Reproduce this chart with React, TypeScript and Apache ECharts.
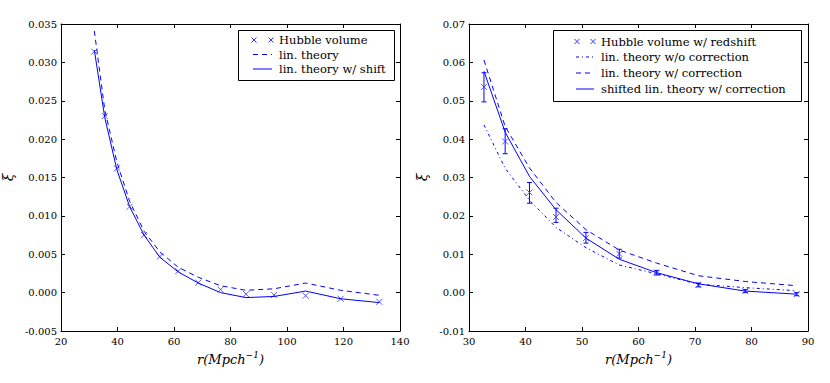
import React, { useEffect, useRef } from "react";
import * as echarts from "echarts";

// ---------- data ----------
const LEFT_R = [31.8, 35.5, 39.8, 44.3, 49.4, 55.0, 61.5, 68.6, 76.5, 85.5, 95.4, 106.6, 119.0, 132.7];
const LEFT_HUBBLE = [0.0314, 0.023, 0.0162, 0.0112, 0.0075, 0.0047, 0.0028, 0.0013, 0.0004, -0.0002, -0.0003, -0.0004, -0.0008, -0.0012];
const LEFT_LIN = [0.0341, 0.0238, 0.017, 0.0119, 0.008, 0.0053, 0.0033, 0.002, 0.0009, 0.0003, 0.0005, 0.00125, 0.0003, -0.00035];
const LEFT_SHIFT = [0.0316, 0.0228, 0.016, 0.0112, 0.0075, 0.0046, 0.0027, 0.00125, 0.0, -0.00065, -0.0005, 0.0002, -0.0008, -0.0013];

const RIGHT_R = [32.65, 36.4, 40.7, 45.4, 50.7, 56.6, 63.2, 70.6, 78.9, 88.0];
const RIGHT_HUBBLE = [0.0536, 0.0394, 0.0261, 0.0197, 0.0142, 0.0101, 0.0052, 0.002, 0.0004, -0.0004];
const RIGHT_ERR_LOW = [0.0497, 0.0362, 0.0233, 0.0183, 0.0129, 0.009, 0.0046, 0.0015, 0.0, -0.0008];
const RIGHT_ERR_HIGH = [0.0573, 0.0427, 0.0287, 0.022, 0.0157, 0.0113, 0.0058, 0.0025, 0.0008, 0.0];
const RIGHT_NOCORR = [0.0437, 0.0324, 0.0241, 0.017, 0.0117, 0.0072, 0.0049, 0.0022, 0.0013, 0.0005];
const RIGHT_CORR = [0.0606, 0.0433, 0.0325, 0.0235, 0.0164, 0.0111, 0.0077, 0.0044, 0.0029, 0.0018];
const RIGHT_SHIFTED = [0.0577, 0.0418, 0.0303, 0.0216, 0.0142, 0.0087, 0.0052, 0.0023, 0.0004, -0.0004];

const LEFT_LEGEND = ["Hubble volume", "lin. theory", "lin. theory w/ shift"];
const RIGHT_LEGEND = [
  "Hubble volume w/ redshift",
  "lin. theory w/o correction",
  "lin. theory w/ correction",
  "shifted lin. theory w/ correction",
];
const Y_NAME = "ξ";

// ---------- styles ----------
const FONT = "DejaVu Serif";
const BLUE = "#0000ff";
const MARK = "#3030ff";
const DASH = [5, 4];
const DASHDOT = [3, 3, 1, 3];
const X_PATH = "path://M0,0L10,10M10,0L0,10";

const pairs = (xs: number[], ys: number[]) => xs.map((x, i) => [x, ys[i]]);

function xAxisPair(gridIndex: number, min: number, max: number, interval: number) {
  const common = {
    gridIndex,
    type: "value",
    min,
    max,
    interval,
    axisLine: { show: true, onZero: false, lineStyle: { color: "#000", width: 1 } },
    axisTick: { show: true, inside: true, length: 4, lineStyle: { color: "#000" } },
    splitLine: { show: false },
  };
  return [
    {
      ...common,
      position: "bottom",
      axisLabel: { fontFamily: FONT, fontSize: 10, color: "#000", margin: 5 },
      name: "{a|r(Mpch}{b|−1}{a|)}",
      nameLocation: "middle",
      nameGap: 16,
      nameTextStyle: {
        rich: {
          a: { fontFamily: FONT, fontStyle: "italic", fontSize: 13, color: "#000", lineHeight: 18 },
          b: { fontFamily: FONT, fontStyle: "italic", fontSize: 9, color: "#000", verticalAlign: "top", lineHeight: 18 },
        },
      },
    },
    { ...common, position: "top", axisLabel: { show: false } },
  ];
}

function yAxisPair(gridIndex: number, min: number, max: number, interval: number, digits: number, gap: number) {
  const common = {
    gridIndex,
    type: "value",
    min,
    max,
    interval,
    axisLine: { show: true, onZero: false, lineStyle: { color: "#000", width: 1 } },
    axisTick: { show: true, inside: true, length: 4, lineStyle: { color: "#000" } },
    splitLine: { show: false },
  };
  return [
    {
      ...common,
      position: "left",
      axisLabel: {
        fontFamily: FONT,
        fontSize: 10,
        color: "#000",
        margin: 4,
        formatter: (v: number) => v.toFixed(digits),
      },
      name: Y_NAME,
      nameLocation: "middle",
      nameRotate: 90,
      nameGap: gap,
      nameTextStyle: { fontFamily: FONT, fontStyle: "italic", fontSize: 14, color: "#000" },
    },
    { ...common, position: "right", axisLabel: { show: false } },
  ];
}

function xMarkGraphic(cx: number, cy: number) {
  const h = 2.5;
  return [
    { type: "line", shape: { x1: cx - h, y1: cy - h, x2: cx + h, y2: cy + h }, style: { stroke: MARK, lineWidth: 1 } },
    { type: "line", shape: { x1: cx - h, y1: cy + h, x2: cx + h, y2: cy - h }, style: { stroke: MARK, lineWidth: 1 } },
  ];
}

function legendGraphic(
  box: { x: number; y: number; w: number; h: number },
  labels: string[],
  kinds: string[],
  rowsY: number[],
  symX1: number,
  symX2: number,
  textX: number
) {
  const children: any[] = [
    { type: "rect", shape: { x: box.x, y: box.y, width: box.w, height: box.h }, style: { fill: "#fff", stroke: "#000", lineWidth: 1 } },
  ];
  labels.forEach((label, i) => {
    const y = rowsY[i];
    const k = kinds[i];
    if (k === "x") {
      children.push(...xMarkGraphic(symX1 + 1, y), ...xMarkGraphic(symX2 - 1, y));
    } else {
      const ld = k === "dash" ? DASH : k === "dashdot" ? DASHDOT : null;
      children.push({
        type: "line",
        shape: { x1: symX1, y1: y, x2: symX2, y2: y },
        style: { stroke: BLUE, lineWidth: 1, lineDash: ld || undefined },
      });
    }
    children.push({
      type: "text",
      x: textX,
      y,
      style: { text: label, fontFamily: FONT, fontSize: 11.5, fill: "#000", verticalAlign: "middle", align: "left" },
    });
  });
  return { type: "group", children };
}

export default function App() {
  const ref = useRef<HTMLDivElement>(null);
  useEffect(() => {
    if (!ref.current) return;
    const chart = echarts.init(ref.current, null, { renderer: "svg" });
    const option: any = {
      animation: false,
      backgroundColor: "#fff",
      grid: [
        { left: 61, right: 430, top: 24, bottom: 52 },
        { left: 469, right: 22, top: 24, bottom: 52 },
      ],
      xAxis: [...xAxisPair(0, 20, 140, 20), ...xAxisPair(1, 30, 90, 10)],
      yAxis: [...yAxisPair(0, -0.005, 0.035, 0.005, 3, 46), ...yAxisPair(1, -0.01, 0.07, 0.01, 2, 40)],
      series: [
        {
          type: "line",
          name: LEFT_LEGEND[1],
          xAxisIndex: 0,
          yAxisIndex: 0,
          data: pairs(LEFT_R, LEFT_LIN),
          symbol: "none",
          lineStyle: { color: BLUE, width: 1, type: DASH },
        },
        {
          type: "line",
          name: LEFT_LEGEND[2],
          xAxisIndex: 0,
          yAxisIndex: 0,
          data: pairs(LEFT_R, LEFT_SHIFT),
          symbol: "none",
          lineStyle: { color: BLUE, width: 1 },
        },
        {
          type: "scatter",
          name: LEFT_LEGEND[0],
          xAxisIndex: 0,
          yAxisIndex: 0,
          data: pairs(LEFT_R, LEFT_HUBBLE),
          symbol: X_PATH,
          symbolSize: 6,
          itemStyle: { color: "none", borderColor: MARK, borderWidth: 1 },
        },
        {
          type: "line",
          name: RIGHT_LEGEND[1],
          xAxisIndex: 2,
          yAxisIndex: 2,
          data: pairs(RIGHT_R, RIGHT_NOCORR),
          symbol: "none",
          lineStyle: { color: BLUE, width: 1, type: DASHDOT },
        },
        {
          type: "line",
          name: RIGHT_LEGEND[2],
          xAxisIndex: 2,
          yAxisIndex: 2,
          data: pairs(RIGHT_R, RIGHT_CORR),
          symbol: "none",
          lineStyle: { color: BLUE, width: 1, type: DASH },
        },
        {
          type: "line",
          name: RIGHT_LEGEND[3],
          xAxisIndex: 2,
          yAxisIndex: 2,
          data: pairs(RIGHT_R, RIGHT_SHIFTED),
          symbol: "none",
          lineStyle: { color: BLUE, width: 1 },
        },
        {
          type: "custom",
          name: "error",
          xAxisIndex: 2,
          yAxisIndex: 2,
          data: RIGHT_R.map((x, i) => [x, RIGHT_ERR_LOW[i], RIGHT_ERR_HIGH[i]]),
          encode: { x: 0, y: [1, 2] },
          renderItem: (_params: any, api: any) => {
            const x = api.value(0);
            const lo = api.coord([x, api.value(1)]);
            const hi = api.coord([x, api.value(2)]);
            const c = 2.5;
            const st = { stroke: BLUE, lineWidth: 1 };
            return {
              type: "group",
              children: [
                { type: "line", shape: { x1: lo[0], y1: lo[1], x2: hi[0], y2: hi[1] }, style: st },
                { type: "line", shape: { x1: lo[0] - c, y1: lo[1], x2: lo[0] + c, y2: lo[1] }, style: st },
                { type: "line", shape: { x1: hi[0] - c, y1: hi[1], x2: hi[0] + c, y2: hi[1] }, style: st },
              ],
            };
          },
        },
        {
          type: "scatter",
          name: RIGHT_LEGEND[0],
          xAxisIndex: 2,
          yAxisIndex: 2,
          data: pairs(RIGHT_R, RIGHT_HUBBLE),
          symbol: X_PATH,
          symbolSize: 6,
          itemStyle: { color: "none", borderColor: MARK, borderWidth: 1 },
        },
      ],
      graphic: [
        legendGraphic({ x: 238.5, y: 30.5, w: 156, h: 50 }, LEFT_LEGEND, ["x", "dash", "solid"], [40, 54.5, 69], 253, 272, 279),
        legendGraphic(
          { x: 553.5, y: 30.5, w: 248, h: 71 },
          RIGHT_LEGEND,
          ["x", "dashdot", "dash", "solid"],
          [41.5, 57, 73, 89],
          576,
          594,
          601
        ),
      ],
    };
    chart.setOption(option);
    return () => chart.dispose();
  }, []);
  return <div ref={ref} style={{ position: "absolute", left: 0, top: 0, width: 830, height: 383 }} />;
}
